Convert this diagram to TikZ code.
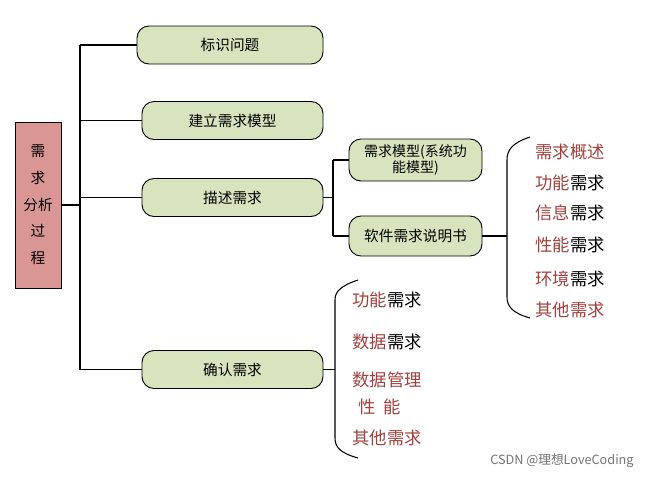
\documentclass[tikz,border=0pt]{standalone}
\usepackage{fontspec}
\setmainfont{Noto Sans CJK SC}
\begin{document}
\begin{tikzpicture}[x=0.75pt,y=-0.75pt,
  line/.style={black,line width=0.8pt},
  rbox/.style={draw=black,line width=0.7pt,fill=green!15!olive!25!white,rounded corners=9pt,minimum height=28.5pt,font=\fontsize{11}{13}\selectfont,inner sep=0pt,align=center},
  li/.style={font=\fontsize{13}{15}\selectfont,inner sep=0pt}]
\definecolor{gf}{HTML}{D7E4BD}
\definecolor{rd}{HTML}{A0413E}
\definecolor{pk}{HTML}{D99694}
\useasboundingbox (0,0) rectangle (664,479);
\node[draw=black,fill=pk,minimum width=34.5pt,minimum height=124.5pt,inner sep=0pt,align=center,font=\fontsize{11}{20}\selectfont] (root) at (38,205) {需\\求\\分析\\过\\程};
\tikzset{rbox/.append style={fill=gf}}
\node[rbox,minimum width=139.5pt] (a) at (230,45) {标识问题};
\node[rbox,minimum width=135.75pt] (b) at (232.5,120.5) {建立需求模型};
\node[rbox,minimum width=135.75pt] (c) at (232.5,197.5) {描述需求};
\node[rbox,minimum width=135.75pt] (d) at (232.5,369.5) {确认需求};
\node[rbox,minimum width=99.75pt,minimum height=31.5pt,font=\fontsize{10.5}{12}\selectfont] (c1) at (415.5,160) {需求模型(系统功\\能模型)};
\node[rbox,minimum width=99.75pt,minimum height=30pt] (c2) at (415.5,236) {软件需求说明书};
\coordinate (t) at (80,205);
\draw[line] (root.east) -- (t);
\draw[line] (80,45) -- (80,370);
\foreach \n in {a,b,c,d} \draw[line] (\n.west) -- (80,0 |- \n.west);
\draw[line] (c.east) -- (333,197.5);
\draw[line] (333,160) -- (333,236);
\draw[line] (c1.west) -- (333,160);
\draw[line] (c2.west) -- (333,236);
\draw[line] (c2.east) -- (507,236);
\draw[line] (530,137) .. controls (512,143) and (507,150) .. (507,160) -- (507,297) .. controls (507,306) and (512,313) .. (530,318);
\draw[line] (d.east) -- (335,369.5);
\draw[line] (358,280) .. controls (340,286) and (335,292) .. (335,300) -- (335,438) .. controls (335,447) and (340,453) .. (358,458);
\node[li] (r1) at (570,152) {\textcolor{rd}{需求概述}};
\node[li] (r2) at (570,183) {\textcolor{rd}{功能}需求};
\node[li] (r3) at (570,213) {\textcolor{rd}{信息}需求};
\node[li] (r4) at (570,245) {\textcolor{rd}{性能}需求};
\node[li] (r5) at (570,279) {\textcolor{rd}{环境}需求};
\node[li] (r6) at (570,310) {\textcolor{rd}{其他需求}};
\node[li] (s1) at (387,300) {\textcolor{rd}{功能}需求};
\node[li] (s2) at (387,342) {\textcolor{rd}{数据}需求};
\node[li] (s3) at (387,380) {\textcolor{rd}{数据管理}};
\node[li] (s4) at (380,407) {\textcolor{rd}{性\ \ 能}};
\node[li] (s5) at (387,438) {\textcolor{rd}{其他需求}};
\node[font=\fontsize{9.5}{11}\selectfont,text=black!55,inner sep=0pt] (w) at (562,461) {CSDN @理想LoveCoding};
\end{tikzpicture}
\end{document}
